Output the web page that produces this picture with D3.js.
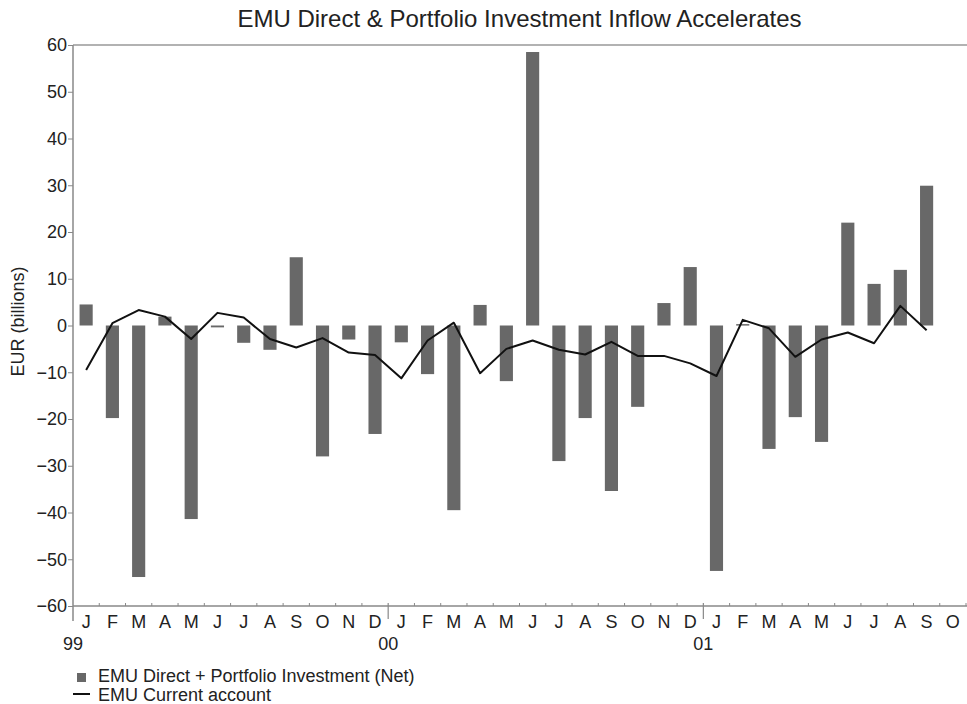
<!DOCTYPE html>
<html>
<head>
<meta charset="utf-8">
<script src="https://cdn.jsdelivr.net/npm/d3@7"></script>
<style>
  body { margin: 0; background: #fff; }
  svg { font-family: "Liberation Sans", Arial, Helvetica, sans-serif; }
</style>
</head>
<body>
<div class="chart"></div>
<script>
// months from Jan 1999 to Oct 2001
const monthLabels = [
    "J","F","M","A","M","J","J","A","S","O","N","D",
    "J","F","M","A","M","J","J","A","S","O","N","D",
    "J","F","M","A","M","J","J","A","S","O"
];
const yearLabels = [
    { index: 0, label: "99" },
    { index: 12, label: "00" },
    { index: 24, label: "01" }
];
// EMU Direct + Portfolio Investment (Net), EUR bn (Jan 99 - Sep 01)
const investment = [
    4.5, -19.8, -53.8, 1.9, -41.4, -0.4, -3.7, -5.2, 14.6, -28.0, -3.0, -23.2,
    -3.6, -10.4, -39.5, 4.4, -11.9, 58.5, -29.0, -19.8, -35.4, -17.4, 4.8, 12.5,
    -52.5, 0.3, -26.4, -19.6, -24.9, 22.0, 8.9, 11.9, 29.9
];
// EMU Current account, EUR bn
const currentAccount = [
    -9.5, 0.5, 3.3, 1.9, -2.9, 2.7, 1.7, -2.9, -4.7, -2.7, -5.8, -6.3,
    -11.3, -3.2, 0.6, -10.2, -5.0, -3.2, -5.2, -6.2, -3.5, -6.5, -6.5, -8.1,
    -10.8, 1.2, -0.6, -6.7, -3.0, -1.5, -3.8, 4.2, -1.0
];
const yTicks = [60, 50, 40, 30, 20, 10, 0, -10, -20, -30, -40, -50, -60];

const width = 967, height = 704;
const margin = { top: 45, right: 1, bottom: 98, left: 73 };
const fs = 18;

const svg = d3.select(".chart").append("svg")
    .attr("width", width)
    .attr("height", height);

const idx = monthLabels.map((d, i) => i);

const x = d3.scaleBand()
    .domain(idx)
    .range([margin.left, width - margin.right])
    .paddingInner(0.5)
    .paddingOuter(0.25);
const step = x.step();
const xc = (i) => x(i) + x.bandwidth() / 2;
const xEdge = (i) => margin.left + i * step;

const y = d3.scaleLinear()
    .domain([-60, 60])
    .range([height - margin.bottom, margin.top]);

// title
svg.append("text")
    .attr("x", (margin.left + width - margin.right) / 2)
    .attr("y", 27)
    .attr("text-anchor", "middle")
    .attr("font-size", 24)
    .attr("fill", "#222")
    .text("EMU Direct & Portfolio Investment Inflow Accelerates");

// top frame line
svg.append("line")
    .attr("x1", margin.left).attr("x2", width)
    .attr("y1", y(60)).attr("y2", y(60))
    .attr("stroke", "#999").attr("stroke-width", 1.5);

// bars
svg.append("g").selectAll("rect")
    .data(investment)
    .join("rect")
    .attr("x", (d, i) => x(i))
    .attr("width", x.bandwidth())
    .attr("y", (d) => y(Math.max(0, d)))
    .attr("height", (d) => Math.max(1.5, Math.abs(y(d) - y(0))))
    .attr("fill", "#686868");

// current account line
svg.append("path")
    .datum(currentAccount)
    .attr("fill", "none")
    .attr("stroke", "#111")
    .attr("stroke-width", 2)
    .attr("stroke-linejoin", "round")
    .attr("d", d3.line().x((d, i) => xc(i)).y((d) => y(d)));

// y axis
const yAxis = svg.append("g")
    .attr("transform", `translate(${margin.left},0)`)
    .call(d3.axisLeft(y).tickValues(yTicks).tickSize(5).tickPadding(1));
yAxis.select(".domain").remove();
yAxis.selectAll("line").attr("stroke", "#888");
yAxis.selectAll("text")
    .attr("font-size", fs)
    .attr("fill", "#222")
    .attr("font-family", "'Liberation Sans', Arial, sans-serif");
svg.append("line")
    .attr("x1", margin.left).attr("x2", margin.left)
    .attr("y1", y(60)).attr("y2", y(-60) + 15)
    .attr("stroke", "#888").attr("stroke-width", 1.5);

// x axis line + ticks
const xAxis = svg.append("g");
xAxis.append("line")
    .attr("x1", margin.left).attr("x2", width)
    .attr("y1", y(-60)).attr("y2", y(-60))
    .attr("stroke", "#888").attr("stroke-width", 1.5);
xAxis.selectAll(".mtick")
    .data(d3.range(1, monthLabels.length + 1).filter((i) => i % 12 !== 0))
    .join("line")
    .attr("x1", (i) => xEdge(i)).attr("x2", (i) => xEdge(i))
    .attr("y1", y(-60) - 3).attr("y2", y(-60))
    .attr("stroke", "#888");
xAxis.selectAll(".ytick")
    .data([12, 24])
    .join("line")
    .attr("x1", (i) => xEdge(i)).attr("x2", (i) => xEdge(i))
    .attr("y1", y(-60) - 3).attr("y2", y(-60) + 13)
    .attr("stroke", "#888").attr("stroke-width", 1.2);
xAxis.selectAll(".mlabel")
    .data(monthLabels)
    .join("text")
    .attr("x", (d, i) => xc(i))
    .attr("y", 628)
    .attr("text-anchor", "middle")
    .attr("font-size", fs)
    .attr("fill", "#222")
    .text((d) => d);
xAxis.selectAll(".ylabel")
    .data(yearLabels)
    .join("text")
    .attr("x", (d) => xEdge(d.index))
    .attr("y", 650)
    .attr("text-anchor", "middle")
    .attr("font-size", fs)
    .attr("fill", "#222")
    .text((d) => d.label);

// y axis title
svg.append("text")
    .attr("transform", `translate(24,${(y(60) + y(-60)) / 2 - 4}) rotate(-90)`)
    .attr("text-anchor", "middle")
    .attr("font-size", fs)
    .attr("fill", "#222")
    .text("EUR (billions)");

// legend
const legend = svg.append("g");
legend.append("rect")
    .attr("x", 77).attr("y", 673).attr("width", 9).attr("height", 9)
    .attr("fill", "#686868");
legend.append("text")
    .attr("x", 98).attr("y", 682)
    .attr("font-size", fs).attr("fill", "#222")
    .text("EMU Direct + Portfolio Investment (Net)");
legend.append("line")
    .attr("x1", 73).attr("x2", 90).attr("y1", 694).attr("y2", 694)
    .attr("stroke", "#111").attr("stroke-width", 2);
legend.append("text")
    .attr("x", 98).attr("y", 701)
    .attr("font-size", fs).attr("fill", "#222")
    .text("EMU Current account");
</script>
</body>
</html>
